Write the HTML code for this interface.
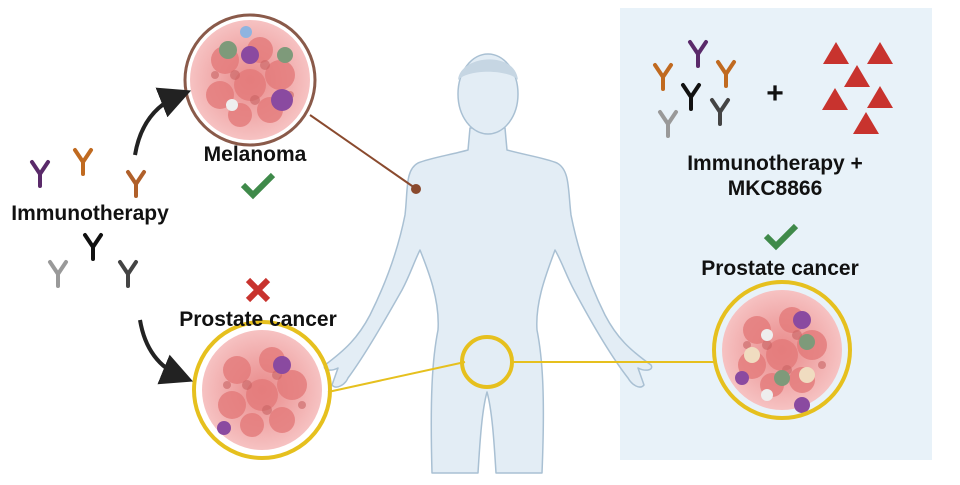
<!DOCTYPE html>
<html><head><meta charset="utf-8"><style>
html,body{margin:0;padding:0;background:#fff;}
svg text{font-family:"Liberation Sans",Arial,sans-serif;font-weight:bold;fill:#111;}
</style></head><body>
<svg width="960" height="480" viewBox="0 0 960 480" xmlns="http://www.w3.org/2000/svg">
<defs>
<marker id="ah" markerWidth="8" markerHeight="8" refX="5" refY="4" orient="auto" markerUnits="strokeWidth">
<path d="M0,0 L8,4 L0,8 Z" fill="#222"/></marker>
<g id="ab"><path d="M0,0 L8,12 L16,0 M8,12 L8,24" fill="none" stroke-width="4" stroke-linecap="round"/></g>
<radialGradient id="cell" cx="50%" cy="50%" r="50%"><stop offset="0" stop-color="#e98a8a"/><stop offset="1" stop-color="#f6c2c2"/></radialGradient>
<g id="tumor">
<circle r="60" fill="url(#cell)"/>
<g fill="#e47a7a" opacity="0.8">
<circle cx="-25" cy="-20" r="14"/><circle cx="10" cy="-30" r="13"/><circle cx="30" cy="-5" r="15"/>
<circle cx="-30" cy="15" r="14"/><circle cx="0" cy="5" r="16"/><circle cx="20" cy="30" r="13"/><circle cx="-10" cy="35" r="12"/>
</g>
<g fill="#c96464" opacity="0.6">
<circle cx="-15" cy="-5" r="5"/><circle cx="15" cy="-15" r="5"/><circle cx="5" cy="20" r="5"/><circle cx="-35" cy="-5" r="4"/><circle cx="40" cy="15" r="4"/>
</g>
</g>
</defs>
<rect x="620" y="8" width="312" height="452" fill="#e8f2f9"/>
<!-- body -->
<g fill="#e3edf5" stroke="#a9c0d3" stroke-width="1.5" stroke-linejoin="round">
<path d="M470,128 L468,150 C450,155 430,158 418,163 C405,170 408,190 405,215 C398,250 385,285 370,315 C358,338 345,350 325,365 C322,370 330,372 338,368 L332,385 C336,390 345,385 348,378 C365,355 385,320 402,290 C410,275 414,262 420,250 C428,270 440,300 438,330 C432,360 430,400 432,473 L478,473 C480,440 482,410 487,392 C492,410 494,440 496,473 L542,473 C545,400 543,360 537,330 C535,300 548,270 555,250 C562,262 566,275 574,290 C590,320 610,355 628,378 C632,385 640,390 644,385 L638,368 C646,372 654,370 651,365 C630,350 617,338 605,315 C590,285 578,250 571,215 C568,190 570,170 557,163 C545,158 525,155 507,150 L505,128 Z"/>
<ellipse cx="488" cy="94" rx="30" ry="40"/>
</g>
<path d="M458,80 C460,55 515,50 518,80 C510,70 470,68 458,80 Z" fill="#c6d6e3"/>
<!-- connectors -->
<line x1="310" y1="115" x2="415" y2="188" stroke="#8a4a2e" stroke-width="2"/>
<circle cx="416" cy="189" r="5" fill="#8a4a2e"/>
<line x1="328" y1="392" x2="465" y2="362" stroke="#e6c01e" stroke-width="2"/>
<line x1="513" y1="362" x2="715" y2="362" stroke="#e6c01e" stroke-width="2"/>
<circle cx="487" cy="362" r="25" fill="none" stroke="#e6c01e" stroke-width="4"/>
<!-- tumors -->
<g transform="translate(250,80)"><use href="#tumor"/>
<circle cx="-22" cy="-30" r="9" fill="#7e9a7a"/><circle cx="0" cy="-25" r="9" fill="#8a4aa0"/><circle cx="35" cy="-25" r="8" fill="#7e9a7a"/><circle cx="32" cy="20" r="11" fill="#8a4aa0"/><circle cx="-18" cy="25" r="6" fill="#eee"/><circle cx="-4" cy="-48" r="6" fill="#8fb4e0"/>
<circle r="65" fill="none" stroke="#8a5a4a" stroke-width="3"/></g>
<g transform="translate(262,390)"><use href="#tumor"/>
<circle cx="20" cy="-25" r="9" fill="#8a4aa0"/><circle cx="-38" cy="38" r="7" fill="#8a4aa0"/>
<circle r="68" fill="none" stroke="#e6c01e" stroke-width="4"/></g>
<g transform="translate(782,350)"><use href="#tumor"/>
<circle cx="20" cy="-30" r="9" fill="#8a4aa0"/><circle cx="-15" cy="-15" r="6" fill="#eee"/><circle cx="25" cy="-8" r="8" fill="#7e9a7a"/><circle cx="-30" cy="5" r="8" fill="#f0dcc0"/><circle cx="25" cy="25" r="8" fill="#f0dcc0"/><circle cx="0" cy="28" r="8" fill="#7e9a7a"/><circle cx="-40" cy="28" r="7" fill="#8a4aa0"/><circle cx="-15" cy="45" r="6" fill="#eee"/><circle cx="20" cy="55" r="8" fill="#8a4aa0"/>
<circle r="68" fill="none" stroke="#e6c01e" stroke-width="4"/></g>
<!-- arrows -->
<path d="M135,155 C140,125 155,105 180,95" fill="none" stroke="#222" stroke-width="4" marker-end="url(#ah)"/>
<path d="M140,320 C145,350 160,368 182,377" fill="none" stroke="#222" stroke-width="4" marker-end="url(#ah)"/>
<!-- antibodies left -->
<use href="#ab" x="32" y="162" stroke="#5a2a6a"/>
<use href="#ab" x="75" y="150" stroke="#c06a20"/>
<use href="#ab" x="128" y="172" stroke="#b0602a"/>
<use href="#ab" x="85" y="235" stroke="#111"/>
<use href="#ab" x="120" y="262" stroke="#444"/>
<use href="#ab" x="50" y="262" stroke="#999"/>
<!-- antibodies right -->
<use href="#ab" x="690" y="42" stroke="#5a2a6a"/>
<use href="#ab" x="655" y="65" stroke="#c06a20"/>
<use href="#ab" x="718" y="62" stroke="#c06a20"/>
<use href="#ab" x="683" y="85" stroke="#111"/>
<use href="#ab" x="712" y="100" stroke="#444"/>
<use href="#ab" x="660" y="112" stroke="#999"/>
<text x="775" y="103" font-size="30" text-anchor="middle">+</text>
<g fill="#c8332e">
<polygon points="836,42 849,64 823,64"/><polygon points="880,42 893,64 867,64"/>
<polygon points="857,65 870,87 844,87"/><polygon points="835,88 848,110 822,110"/>
<polygon points="880,86 893,108 867,108"/><polygon points="866,112 879,134 853,134"/>
</g>
<!-- labels -->
<text x="255" y="161" font-size="21" text-anchor="middle">Melanoma</text>
<text x="90" y="220" font-size="21" text-anchor="middle">Immunotherapy</text>
<text x="258" y="326" font-size="21" text-anchor="middle">Prostate cancer</text>
<text x="775" y="170" font-size="21" text-anchor="middle">Immunotherapy +</text>
<text x="775" y="195" font-size="21" text-anchor="middle">MKC8866</text>
<text x="780" y="275" font-size="21" text-anchor="middle">Prostate cancer</text>
<!-- marks -->
<path d="M243,185 L253,195 L273,175" fill="none" stroke="#3f8a4a" stroke-width="6"/>
<path d="M766,236 L776,246 L796,226" fill="none" stroke="#3f8a4a" stroke-width="6"/>
<path d="M248,280 L268,300 M268,280 L248,300" stroke="#c8332e" stroke-width="6"/>
</svg>
</body></html>
